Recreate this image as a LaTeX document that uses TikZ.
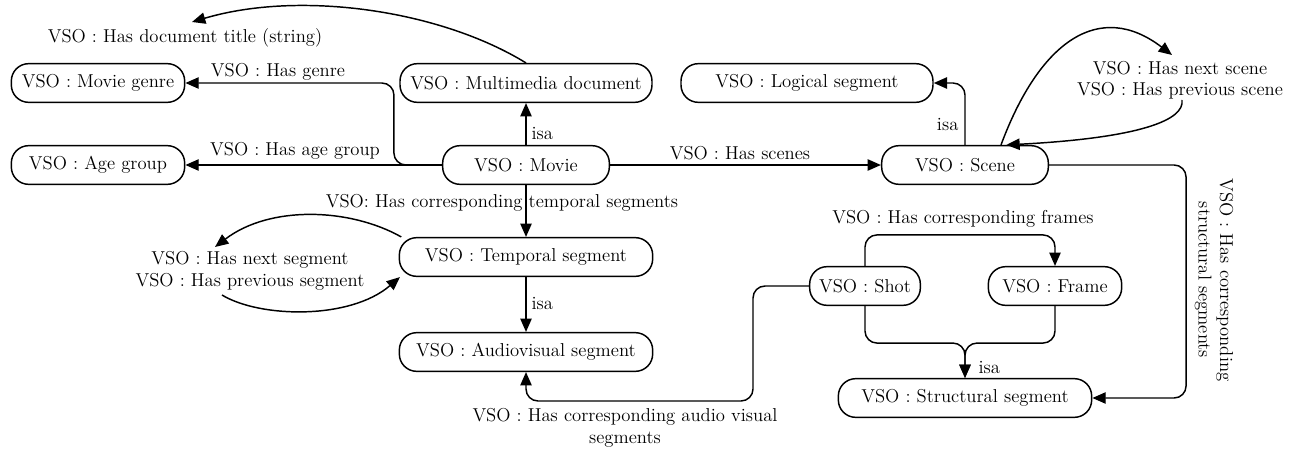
\documentclass[tikz,border=0pt]{standalone}
\usetikzlibrary{arrows.meta}
\definecolor{ink}{HTML}{000000}

\begin{document}
\begin{tikzpicture}[x=0.75pt,y=-0.75pt,
    box/.style={draw=ink,line width=1.1pt,rounded corners=13pt,minimum height=29pt,inner sep=2pt,font=\fontsize{14}{16}\selectfont},
    conn/.style={draw=ink,line width=1.1pt,rounded corners=9pt,-{Triangle[length=10pt,width=8.5pt]}},
    lbl/.style={color=ink,font=\fontsize{14}{16}\selectfont,inner sep=1pt}]
        \useasboundingbox (0,0) rectangle (1289,453);
        % class boxes
        \node[box,minimum width=130pt] (genre) at (98,83) {VSO : Movie genre};
        \node[box,minimum width=130pt] (agegrp) at (98,165) {VSO : Age group};
        \node[box,minimum width=189pt] (mmdoc) at (526,83) {VSO : Multimedia document};
        \node[box,minimum width=189pt] (logseg) at (807,83) {VSO : Logical segment};
        \node[box,minimum width=125pt] (movie) at (526,165) {VSO : Movie};
        \node[box,minimum width=125pt] (scene) at (965,165) {VSO : Scene};
        \node[box,minimum width=190pt] (tempseg) at (526,257) {VSO : Temporal segment};
        \node[box,minimum width=190pt] (avseg) at (526,352) {VSO : Audiovisual segment};
        \node[box,minimum width=83pt] (shot) at (865,286) {VSO : Shot};
        \node[box,minimum width=100pt] (frame) at (1055,286) {VSO : Frame};
        \node[box,minimum width=190pt] (structseg) at (965,398) {VSO : Structural segment};
        % free ends
        \coordinate (titletip) at (192,22);
        \coordinate (nexttip) at (215,247);
        \coordinate (prevstart) at (222,295);
        \coordinate (scnexttip) at (1172,55);
        \coordinate (scprevstart) at (1182,100);
        \coordinate (avcorner) at (753,401);
        % movie relations
        \draw[conn] (movie) -- (movie |- mmdoc.south);
        \node[lbl,anchor=west] (isa1) at (530,133) {isa};
        \draw[conn] (mmdoc.north) .. controls (440,10) and (300,-10) .. (titletip);
        \node[lbl] (titlelbl) at (185,38) {VSO : Has document title (string)};
        \draw[conn] (movie.west) -- ++(-48,0) |- (genre.east);
        \node[lbl] (genrelbl) at (278,72) {VSO : Has genre};
        \draw[conn] (movie.west) -- (agegrp.east);
        \node[lbl] (agelbl) at (295,151) {VSO : Has age group};
        \draw[conn] (movie.east) -- (scene.west);
        \node[lbl] (scenelbl) at (740,153) {VSO : Has scenes};
        \draw[conn] (movie.south) -- (tempseg.north);
        \node[lbl] (templbl) at (502,203) {VSO: Has corresponding temporal segments};
        % temporal segment
        \draw[conn] (tempseg) -- (avseg);
        \node[lbl,anchor=west] (isa2) at (530,303) {isa};
        \draw[conn] ([xshift=2pt]tempseg.north west) .. controls (350,208) and (270,205) .. (nexttip);
        \draw[conn] (prevstart) .. controls (260,318) and (350,320) .. ([xshift=1pt]tempseg.south west);
        \node[lbl,align=center] (seglbl) at (250,271) {VSO : Has next segment\\VSO : Has previous segment};
        % shot and frame
        \draw[conn] (shot.west) -| (avcorner) -| (avseg.south);
        \node[lbl,align=center] (avlbl) at (625,428) {VSO : Has corresponding audio visual\\segments};
        \draw[conn] (shot.north) -- ++(0,-31) -| (frame.north);
        \node[lbl] (framelbl) at (963,219) {VSO : Has corresponding frames};
        \draw[conn] (shot.south) -- ++(0,37) -| (structseg.north);
        \draw[conn] (frame.south) -- ++(0,37) -| (structseg.north);
        \node[lbl,anchor=west] (isa3) at (977,367) {isa};
        % scene relations
        \draw[conn] (scene.north) |- (logseg.east);
        \node[lbl,anchor=east] (isa4) at (960,124) {isa};
        \draw[conn] (scene.east) -- ++(137,0) |- (structseg.east);
        \node[lbl,align=center,rotate=-90] (structlbl) at (1214,280) {VSO : Has corresponding\\structural segments};
        \draw[conn] ([xshift=27pt]scene.north) .. controls (1040,40) and (1100,0) .. (scnexttip);
        \draw[conn] (scprevstart) .. controls (1185,120) and (1140,138) .. ([xshift=31pt]scene.north);
        \node[lbl,align=center] (scnlbl) at (1180,80) {VSO : Has next scene\\VSO : Has previous scene};
      \end{tikzpicture}
\end{document}
